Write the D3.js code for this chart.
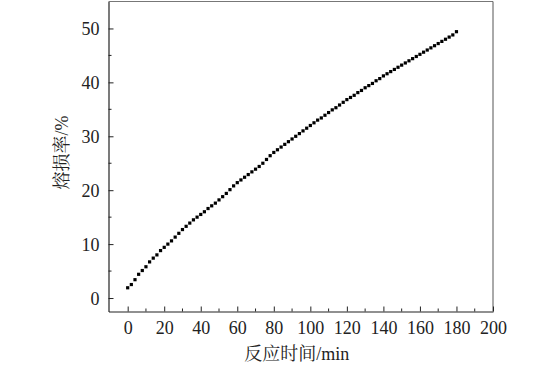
<!DOCTYPE html>
<html><head><meta charset="utf-8">
<script src="https://cdn.jsdelivr.net/npm/d3@7"></script>
<style>body{margin:0;background:#fff}svg{display:block}
.num{font-family:"Liberation Serif","Times New Roman","DejaVu Serif",serif}
.ttl{font-family:"Liberation Serif","Noto Serif CJK SC","Noto Sans CJK SC",serif}</style>
</head><body>
<svg id="c" width="560" height="366"></svg>
<script>
const times = d3.range(0, 181, 2);
const lossRate = [1.9,2.5,3.4,4.4,5.1,5.8,6.7,7.4,8.0,8.8,9.4,10.0,10.6,11.3,12.0,12.7,13.3,13.9,14.5,15.0,
15.5,16.0,16.6,17.1,17.6,18.2,18.8,19.4,20.1,20.8,21.4,21.9,22.4,22.9,23.4,23.9,24.4,25.0,25.7,26.4,
27.0,27.5,28.0,28.5,29.0,29.5,30.0,30.5,31.0,31.5,32.0,32.5,33.0,33.4,33.9,34.4,34.9,35.3,35.8,36.3,
36.8,37.2,37.6,38.1,38.5,39.0,39.4,39.8,40.3,40.7,41.2,41.6,42.0,42.4,42.8,43.2,43.6,44.0,44.4,44.8,
45.2,45.6,46.0,46.4,46.8,47.2,47.6,48.0,48.4,48.8,49.4];
const xTicks = [0,20,40,60,80,100,120,140,160,180,200];
const yTicks = [0,10,20,30,40,50];
const xTitle = "反应时间/min";
const yTitle = "熔损率/%";

const svg = d3.select("#c");
const L = 108.5, R = 493, T = 1.5, B = 311.5;
const x = d3.scaleLinear().domain([-10.5, 200]).range([L, R]);
const y = d3.scaleLinear().domain([-2.5, 55]).range([B, T]);

svg.append("line").attr("x1",L).attr("x2",R).attr("y1",T).attr("y2",T).attr("stroke","#777");
svg.append("line").attr("x1",R).attr("x2",R).attr("y1",T).attr("y2",B).attr("stroke","#555");

const xMinor = d3.range(10, 200, 20);
const yMinor = [5,15,25,35,45];

const gx = svg.append("g").attr("transform",`translate(0,${B})`)
  .call(d3.axisBottom(x).tickValues(xTicks).tickSizeInner(-5).tickSizeOuter(0).tickPadding(8).tickFormat(d3.format("d")));
gx.append("g").selectAll("line").data(xMinor).join("line")
  .attr("x1",d=>x(d)).attr("x2",d=>x(d)).attr("y1",0).attr("y2",-3).attr("stroke","#222");
const gy = svg.append("g").attr("transform",`translate(${L},0)`)
  .call(d3.axisLeft(y).tickValues(yTicks).tickSizeInner(-5).tickSizeOuter(0).tickPadding(9).tickFormat(d3.format("d")));
gy.append("g").selectAll("line").data(yMinor).join("line")
  .attr("x1",0).attr("x2",3).attr("y1",d=>y(d)).attr("y2",d=>y(d)).attr("stroke","#222");

[gx, gy].forEach(g => {
  g.attr("font-family", null);
  g.selectAll("path.domain").attr("stroke","#222").attr("stroke-width",1.2);
  g.selectAll(".tick line").attr("stroke","#222");
  g.selectAll("text").attr("class","num").style("font-size","18px").attr("fill","#222");
});
gy.selectAll("text").attr("dy","0.35em");
gx.selectAll("text").attr("dy","0.8em");

svg.append("g").selectAll("rect").data(times).join("rect")
  .attr("x",d=>x(d)-1.6).attr("y",(d,i)=>y(lossRate[i])-1.6)
  .attr("width",3.2).attr("height",3.2).attr("fill","#000");

svg.append("text").attr("class","ttl").attr("x",(L+R)/2 - 4).attr("y",360).attr("text-anchor","middle")
  .style("font-size","18px").attr("fill","#222").text(xTitle);
svg.append("text").attr("class","ttl").attr("transform",`translate(68,${(T+B)/2 - 4}) rotate(-90)`).attr("text-anchor","middle")
  .style("font-size","18px").attr("fill","#222").text(yTitle);
</script>
</body></html>
